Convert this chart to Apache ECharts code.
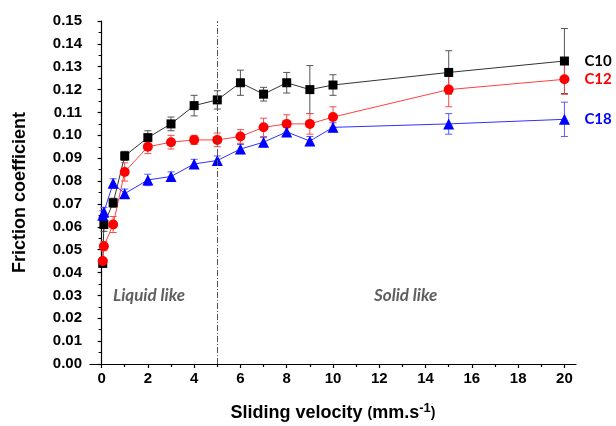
<!DOCTYPE html>
<html>
<head>
<meta charset="utf-8">
<script src="https://cdn.jsdelivr.net/npm/echarts@6/dist/echarts.min.js"></script>
<style>
  html, body { margin: 0; padding: 0; background: #fff; }
  #chart { width: 616px; height: 426px; }
</style>
</head>
<body>
<div id="chart"></div>
<script>
// sliding velocity (mm/s)
const velocity = [0.05, 0.1, 0.5, 1, 2, 3, 4, 5, 6, 7, 8, 9, 10, 15, 20]

// friction coefficient + error for each chain length
const c10 = [0.044, 0.061, 0.0705, 0.091, 0.099, 0.105, 0.113, 0.1155, 0.123, 0.118, 0.123, 0.120, 0.122, 0.1275, 0.1325]
const c10Err = [0.0015, 0.003, 0.002, 0.002, 0.003, 0.003, 0.0045, 0.004, 0.0055, 0.003, 0.0045, 0.0105, 0.0045, 0.0095, 0.0142]
const c12 = [0.045, 0.0515, 0.061, 0.084, 0.095, 0.097, 0.098, 0.098, 0.0995, 0.1035, 0.105, 0.105, 0.108, 0.120, 0.1245]
const c12Err = [0.0015, 0.002, 0.0035, 0.004, 0.003, 0.003, 0.002, 0.003, 0.003, 0.004, 0.004, 0.0045, 0.0045, 0.0075, 0.0066]
const c18 = [0.065, 0.0665, 0.079, 0.0745, 0.0805, 0.082, 0.0875, 0.089, 0.094, 0.097, 0.1015, 0.0975, 0.1035, 0.105, 0.107]
const c18Err = [0.002, 0.002, 0.002, 0.002, 0.0025, 0.002, 0.002, 0.002, 0.002, 0.002, 0.002, 0.002, 0.002, 0.0045, 0.0075]

const xMajorTicks = [0, 2, 4, 6, 8, 10, 12, 14, 16, 18, 20]
const xMinorTicks = [1, 3, 5, 7, 9, 11, 13, 15, 17, 19]
const transitionVelocity = 5

const axisFont = 'Liberation Sans, Arial, sans-serif'
const noteFont = 'Lato, Open Sans, sans-serif'

const chart = echarts.init(document.getElementById('chart'))

function pairs(ys) {
  return velocity.map((v, i) => [v, ys[i]])
}

function errorSeries(ys, errs, color) {
  return {
    type: 'custom',
    z: 1,
    silent: true,
    data: velocity.map((v, i) => [v, ys[i] - errs[i], ys[i] + errs[i]]),
    renderItem(params, api) {
      const lo = api.coord([api.value(0), api.value(1)])
      const hi = api.coord([api.value(0), api.value(2)])
      const w = 3.5
      const style = { stroke: color, lineWidth: 1 }
      return {
        type: 'group',
        children: [
          { type: 'line', shape: { x1: lo[0], y1: lo[1], x2: hi[0], y2: hi[1] }, style },
          { type: 'line', shape: { x1: lo[0] - w, y1: lo[1], x2: lo[0] + w, y2: lo[1] }, style },
          { type: 'line', shape: { x1: hi[0] - w, y1: hi[1], x2: hi[0] + w, y2: hi[1] }, style }
        ]
      }
    }
  }
}

function lineSeries(name, ys, color, lineColor, symbol, size) {
  return {
    name: name,
    type: 'line',
    z: 3,
    data: pairs(ys),
    symbol: symbol,
    symbolSize: size,
    itemStyle: { color: color },
    lineStyle: { color: lineColor, width: 1 },
    emphasis: { disabled: true },
    endLabel: {
      show: true,
      formatter: name,
      color: color,
      fontFamily: noteFont,
      fontWeight: 'bold',
      fontSize: 15,
      distance: 20
    }
  }
}

const option = {
  animation: false,
  grid: { left: 90, right: 40, top: 21, bottom: 62, outerBoundsMode: 'none', containLabel: false },
  xAxis: [
    {
      type: 'value',
      min: -0.5,
      max: 20.5,
      name: 'Sliding velocity {p|(}mm.s{sup|-1}{p|)}',
      nameLocation: 'middle',
      nameGap: 38,
      nameTextStyle: {
        fontFamily: axisFont, fontWeight: 'bold', fontSize: 18, color: '#000',
        rich: {
          p: { fontFamily: axisFont, fontSize: 14, fontWeight: 'bold', color: '#000' },
          sup: { fontFamily: axisFont, fontSize: 13, fontWeight: 'bold', color: '#000', verticalAlign: 'top', padding: [0, 0, 10, 0] }
        }
      },
      splitLine: { show: false },
      axisLine: { show: true, onZero: false, lineStyle: { color: '#000', width: 1.2 } },
      axisTick: { show: true, length: 4, customValues: xMajorTicks, lineStyle: { color: '#000', width: 1.2 } },
      axisLabel: {
        customValues: xMajorTicks,
        margin: 7,
        fontFamily: axisFont, fontWeight: 'bold', fontSize: 15, color: '#000'
      }
    },
    {
      type: 'value',
      min: -0.5,
      max: 20.5,
      position: 'bottom',
      splitLine: { show: false },
      axisLine: { show: false },
      axisTick: { show: true, length: 3, customValues: xMinorTicks, lineStyle: { color: '#000', width: 1.2 } },
      axisLabel: { show: false }
    }
  ],
  yAxis: {
    type: 'value',
    min: 0,
    max: 0.15,
    interval: 0.01,
    name: 'Friction coefficient',
    nameLocation: 'middle',
    nameGap: 61,
    nameTextStyle: { fontFamily: axisFont, fontWeight: 'bold', fontSize: 18, color: '#000' },
    splitLine: { show: false },
    axisLine: { show: true, lineStyle: { color: '#000', width: 1.2 } },
    axisTick: { show: true, length: 4, lineStyle: { color: '#000', width: 1.2 } },
    minorTick: { show: true, splitNumber: 2, length: 3, lineStyle: { color: '#000', width: 1 } },
    axisLabel: {
      margin: 8,
      formatter: v => v.toFixed(2),
      fontFamily: axisFont, fontWeight: 'bold', fontSize: 15, color: '#000'
    }
  },
  graphic: [
    { type: 'text', left: 113, top: 287, style: { text: 'Liquid like', font: 'italic bold 17px Lato, sans-serif', fill: '#5f5f5f' } },
    { type: 'text', left: 374, top: 287, style: { text: 'Solid like', font: 'italic bold 17px Lato, sans-serif', fill: '#5f5f5f' } }
  ],
  series: [
    errorSeries(c10, c10Err, '#555'),
    errorSeries(c12, c12Err, '#f05050'),
    errorSeries(c18, c18Err, '#5a5aff'),
    Object.assign(lineSeries('C10', c10, '#000', '#333', 'rect', 9), {
      markLine: {
        silent: true,
        symbol: 'none',
        label: { show: false },
        lineStyle: { color: '#555', width: 1, type: [6, 2, 1, 2] },
        data: [{ xAxis: transitionVelocity }]
      }
    }),
    lineSeries('C12', c12, '#ff0000', '#ff4040', 'circle', 10),
    lineSeries('C18', c18, '#0000ff', '#3030ff', 'triangle', 11)
  ]
}

chart.setOption(option)
</script>
</body>
</html>
